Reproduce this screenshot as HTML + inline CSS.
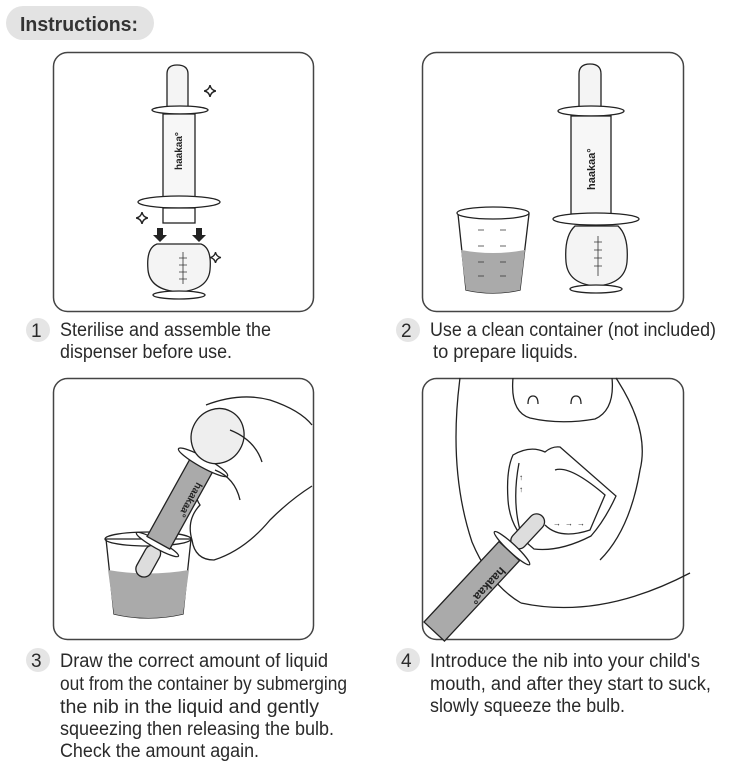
<!DOCTYPE html>
<html><head><meta charset="utf-8"><style>
html,body{margin:0;padding:0;background:#fff;}
body{width:731px;height:768px;overflow:hidden;position:relative;font-family:"Liberation Sans",sans-serif;}
</style></head><body>
<svg width="731" height="768" viewBox="0 0 731 768" xmlns="http://www.w3.org/2000/svg" style="position:absolute;left:0;top:0">
<defs>
<symbol id="spark" viewBox="-6 -6 12 12"><path d="M0,-5 Q0.8,-0.8 5,0 Q0.8,0.8 0,5 Q-0.8,0.8 -5,0 Q-0.8,-0.8 0,-5Z" fill="#fff" stroke="#222" stroke-width="1.2"/></symbol>
</defs>
<!-- header -->
<rect x="6" y="6" width="148" height="34" rx="17" fill="#e3e3e3"/>
<text x="20" y="31" font-size="20" font-weight="bold" fill="#333" textLength="118" lengthAdjust="spacingAndGlyphs">Instructions:</text>

<!-- panels -->
<g fill="none" stroke="#444" stroke-width="1.5">
<rect x="53.5" y="52.5" width="260" height="259" rx="14"/>
<rect x="422.5" y="52.5" width="261" height="259" rx="14"/>
<rect x="53.5" y="378.5" width="260" height="261" rx="14"/>
<rect x="422.5" y="378.5" width="261" height="261" rx="14"/>
</g>

<!-- Panel 1 -->
<g stroke="#222" stroke-width="1.3" fill="#fff">
<path d="M167,107 L167,74 Q167,65 177,65 Q188,65 188,74 L188,107Z" fill="#f4f4f4"/>
<ellipse cx="180" cy="110" rx="28" ry="4"/>
<rect x="163" y="114" width="32" height="84" fill="#f7f7f7"/>
<ellipse cx="179" cy="202" rx="41" ry="6"/>
<rect x="163" y="208" width="32" height="15"/>
<path d="M148,270 Q146,248 157,244 L201,244 Q212,248 210,270 Q208,290 179,292 Q150,290 148,270Z" fill="#f4f4f4"/>
<ellipse cx="179" cy="295" rx="26" ry="4"/>
</g>
<text transform="translate(182,170) rotate(-90)" font-size="10" font-weight="bold" fill="#222">haakaa°</text>
<g fill="#222"><path d="M157,228h6v7h4l-7,7-7-7h4z"/><path d="M196,228h6v7h4l-7,7-7-7h4z"/></g>
<g stroke="#333" stroke-width="0.8"><path d="M183,252v32M179,258h8M179,265h8M179,272h8M179,279h8"/></g>
<use href="#spark" x="203" y="84" width="14" height="14"/>
<use href="#spark" x="135" y="211" width="14" height="14"/>
<use href="#spark" x="209" y="251" width="13" height="13"/>

<!-- Panel 2 -->
<g stroke="#222" stroke-width="1.3" fill="#fff">
<path d="M458,214 L466,290 Q493,296 520,290 L529,214Z"/>
<path d="M461,250 Q493,256 525,250 L520,290 Q493,296 466,290Z" fill="#aaa" stroke="none"/>
<ellipse cx="493" cy="213" rx="36" ry="6"/>
<path d="M579,108 L579,74 Q579,64 590,64 Q601,64 601,74 L601,108Z" fill="#f4f4f4"/>
<ellipse cx="591" cy="111" rx="33" ry="5"/>
<rect x="571" y="116" width="40" height="98" fill="#f7f7f7"/>
<ellipse cx="596" cy="219" rx="43" ry="6"/>
<path d="M566,262 Q564,236 575,226 L618,226 Q629,236 627,262 Q625,284 596,286 Q568,284 566,262Z" fill="#f4f4f4"/>
<ellipse cx="596" cy="289" rx="26" ry="4"/>
</g>
<text transform="translate(595,190) rotate(-90)" font-size="11" font-weight="bold" fill="#222">haakaa°</text>
<g stroke="#333" stroke-width="0.8"><path d="M598,236v40M594,242h8M594,250h8M594,258h8M594,266h8M478,230h6M500,230h6M478,246h6M500,246h6M478,262h6M500,262h6M478,276h6M500,276h6"/></g>

<!-- Panel 3 -->
<g stroke="#222" stroke-width="1.3" fill="#fff">
<path d="M106,539 L114,614 Q148,622 183,614 L191,539Z"/>
<path d="M108,570 Q148,577 189,570 L183,614 Q148,622 114,614Z" fill="#aaa" stroke="none"/>
<ellipse cx="148" cy="539" rx="43" ry="7" fill="none"/>
<path d="M206,405 Q240,392 270,400 Q300,410 312,425 M312,486 Q290,500 270,520 Q245,550 214,560 Q195,560 192,540 Q186,520 200,505 Q190,490 205,480 Q198,470 210,460 L222,450"/>
<g transform="translate(140,576) rotate(29)">
<rect x="-8" y="-34" width="16" height="34" rx="8" fill="#ddd"/>
<ellipse cx="0" cy="-36" rx="24" ry="4"/>
<rect x="-13" y="-128" width="26" height="90" fill="#aaa"/>
<ellipse cx="0" cy="-130" rx="28" ry="5"/>
<ellipse cx="0" cy="-160" rx="26" ry="28" fill="#eee"/>
<text transform="translate(4,-110) rotate(90)" font-size="10" font-weight="bold" fill="#222" stroke="none">haakaa°</text>
</g>
<path d="M230,430 Q255,440 262,462 M215,470 Q235,478 240,500"  fill="none"/>
</g>

<!-- Panel 4 -->
<g stroke="#222" stroke-width="1.3" fill="none">
<path d="M460,378 Q448,470 472,542 Q490,585 521,603"/>
<path d="M521,603 Q600,620 690,573"/>
<path d="M513,378 Q510,412 530,418 Q560,425 595,419 Q615,410 612,378"/>
<path d="M616,378 Q650,430 640,470 Q630,530 600,560"/>
<path d="M528,404 Q528,396 533,396 Q538,396 538,404 M571,404 Q571,396 576,396 Q581,396 581,404"/>
<path d="M513,455 Q530,445 545,452 Q552,446 560,447 L616,496 Q605,520 591,536 Q560,552 534,549 Q510,530 508,500 Q506,470 513,455Z" fill="#fff"/>
<path d="M519,463 Q512,500 520,530" />
<path d="M555,470 Q570,465 605,495 L590,530 Q560,540 545,525"/>
<g transform="translate(542,516) rotate(43)">
<rect x="-8" y="0" width="16" height="42" rx="8" fill="#ddd"/>
<ellipse cx="0" cy="44" rx="24" ry="4" fill="#fff"/>
<rect x="-14" y="48" width="28" height="110" fill="#aaa"/>
<text transform="translate(4,65) rotate(90)" font-size="12" font-weight="bold" fill="#222" stroke="none">haakaa°</text>
</g>
</g>
<g fill="#222" font-size="8"><text x="519" y="492">↑</text><text x="519" y="480">↑</text><text x="553" y="526">→</text><text x="565" y="526">→</text><text x="577" y="526">→</text></g>

<!-- captions -->
<g fill="#e5e5e5"><circle cx="38" cy="330" r="12"/><circle cx="408" cy="330" r="12"/><circle cx="38" cy="660" r="12"/><circle cx="408" cy="660" r="12"/></g>
<g font-size="19" fill="#2a2a2a">
<text x="31" y="337">1</text><text x="401" y="337">2</text><text x="31" y="667">3</text><text x="401" y="667">4</text>
<text x="60" y="336" textLength="211" lengthAdjust="spacingAndGlyphs">Sterilise and assemble the</text>
<text x="60" y="358" textLength="172" lengthAdjust="spacingAndGlyphs">dispenser before use.</text>
<text x="430" y="336" textLength="286" lengthAdjust="spacingAndGlyphs">Use a clean container (not included)</text>
<text x="433" y="358" textLength="145" lengthAdjust="spacingAndGlyphs">to prepare liquids.</text>
<text x="60" y="667" textLength="268" lengthAdjust="spacingAndGlyphs">Draw the correct amount of liquid</text>
<text x="60" y="690" textLength="287" lengthAdjust="spacingAndGlyphs">out from the container by submerging</text>
<text x="60" y="713" textLength="259" lengthAdjust="spacingAndGlyphs">the nib in the liquid and gently</text>
<text x="60" y="735" textLength="274" lengthAdjust="spacingAndGlyphs">squeezing then releasing the bulb.</text>
<text x="60" y="757" textLength="199" lengthAdjust="spacingAndGlyphs">Check the amount again.</text>
<text x="430" y="667" textLength="270" lengthAdjust="spacingAndGlyphs">Introduce the nib into your child's</text>
<text x="430" y="690" textLength="281" lengthAdjust="spacingAndGlyphs">mouth, and after they start to suck,</text>
<text x="430" y="712" textLength="195" lengthAdjust="spacingAndGlyphs">slowly squeeze the bulb.</text>
</g>
</svg>
</body></html>
